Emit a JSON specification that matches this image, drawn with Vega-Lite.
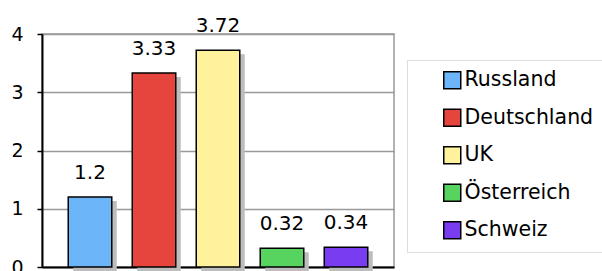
{
  "$schema": "https://vega.github.io/schema/vega-lite/v6.json",
  "width": 352,
  "height": 233,
  "autosize": {"type": "none"},
  "padding": {"left": 42, "top": 34, "right": 208, "bottom": 4},
  "background": "white",
  "config": {
    "font": "DejaVu Sans",
    "view": {"stroke": "#999999", "strokeWidth": 1.5}
  },
  "data": {
    "values": [
      {"land": "Russland", "wert": 1.2},
      {"land": "Deutschland", "wert": 3.33},
      {"land": "UK", "wert": 3.72},
      {"land": "Österreich", "wert": 0.32},
      {"land": "Schweiz", "wert": 0.34}
    ]
  },
  "encoding": {
    "x": {
      "field": "land",
      "type": "nominal",
      "sort": null,
      "scale": {"paddingInner": 0.32, "paddingOuter": 0.41},
      "axis": {"labels": false, "ticks": false, "title": null, "domainColor": "black", "domainWidth": 2}
    },
    "y": {
      "field": "wert",
      "type": "quantitative",
      "scale": {"domain": [0, 4], "nice": false},
      "axis": {
        "values": [0, 1, 2, 3, 4],
        "title": null,
        "domainColor": "black",
        "domainWidth": 2,
        "tickColor": "black",
        "tickWidth": 1.5,
        "tickSize": 5,
        "labelFontSize": 19,
        "labelColor": "black",
        "labelPadding": 14,
        "gridColor": "#999999",
        "gridWidth": 1.5
      }
    }
  },
  "layer": [
    {
      "mark": {"type": "bar", "color": "#bdbdbd", "xOffset": 5, "yOffset": 4, "y2Offset": -4}
    },
    {
      "mark": {"type": "bar", "stroke": "black", "strokeWidth": 1.5},
      "encoding": {
        "color": {
          "field": "land",
          "type": "nominal",
          "sort": null,
          "scale": {
            "domain": ["Russland", "Deutschland", "UK", "Österreich", "Schweiz"],
            "range": ["#6db5f9", "#e5453d", "#fff29c", "#57d35f", "#7a3cf0"]
          },
          "legend": {
            "orient": "none",
            "legendX": 365,
            "legendY": 26,
            "title": " ",
            "titleOrient": "left",
            "titleFontSize": 8,
            "titlePadding": 25,
            "padding": 10,
            "strokeColor": "#dddddd",
            "fillColor": "white",
            "symbolType": "square",
            "symbolSize": 289,
            "symbolStrokeColor": "black",
            "symbolStrokeWidth": 1.5,
            "symbolOpacity": 1,
            "labelFontSize": 20.5,
            "labelColor": "black",
            "labelOffset": 2,
            "rowPadding": 13.5,
            "labelLimit": 300
          }
        }
      }
    },
    {
      "mark": {"type": "text", "fontSize": 20, "baseline": "alphabetic", "dy": -18, "color": "black", "clip": false},
      "encoding": {"text": {"field": "wert", "type": "quantitative"}}
    }
  ]
}
